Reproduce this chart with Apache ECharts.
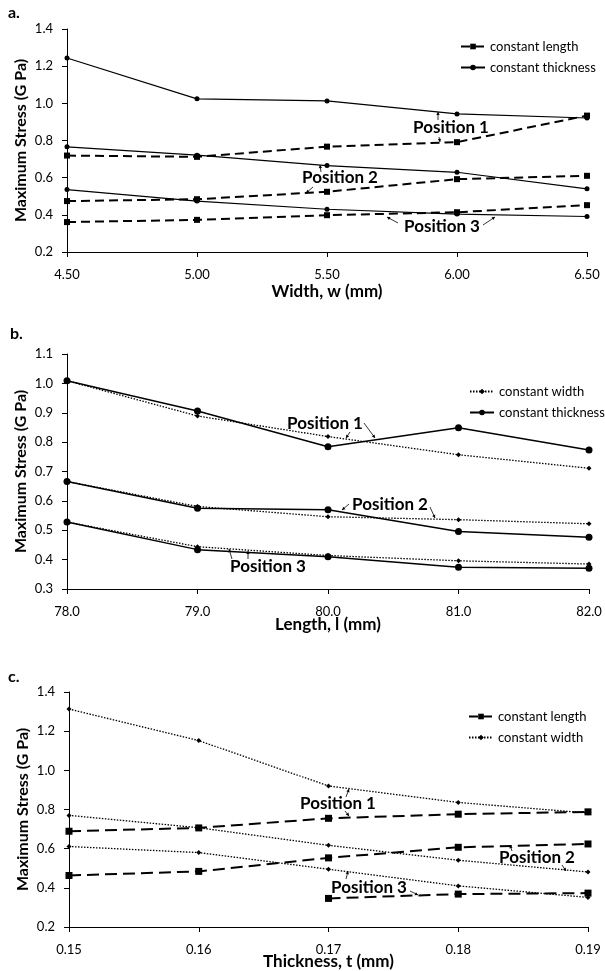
<!DOCTYPE html>
<html>
<head>
<meta charset="utf-8">
<script src="https://cdn.jsdelivr.net/npm/echarts@6/dist/echarts.min.js"></script>
<style>
   html, body { margin: 0; padding: 0; background: #fff; }
   #chartWrapper { width: 605px; height: 971px; }
</style>
</head>
<body>
<div id="chartWrapper"></div>
<script>
// panel a: stress vs width
var widthCats = ['4.50', '5.00', '5.50', '6.00', '6.50'];
var aThick1 = [1.244, 1.024, 1.013, 0.943, 0.921];
var aThick2 = [0.766, 0.721, 0.665, 0.629, 0.540];
var aThick3 = [0.536, 0.474, 0.430, 0.404, 0.391];
var aLen1 = [0.719, 0.712, 0.767, 0.791, 0.934];
var aLen2 = [0.474, 0.484, 0.524, 0.592, 0.610];
var aLen3 = [0.361, 0.373, 0.398, 0.414, 0.452];

// panel b: stress vs length
var lengthCats = ['78.0', '79.0', '80.0', '81.0', '82.0'];
var bThick1 = [1.009, 0.906, 0.784, 0.849, 0.773];
var bThick2 = [0.666, 0.575, 0.570, 0.496, 0.476];
var bThick3 = [0.528, 0.434, 0.410, 0.374, 0.371];
var bWidth1 = [1.009, 0.889, 0.819, 0.757, 0.711];
var bWidth2 = [0.666, 0.581, 0.546, 0.536, 0.522];
var bWidth3 = [0.528, 0.444, 0.414, 0.396, 0.385];

// panel c: stress vs thickness
var thickCats = ['0.15', '0.16', '0.17', '0.18', '0.19'];
var cWidth1 = [1.313, 1.152, 0.920, 0.836, 0.782];
var cWidth2 = [0.770, 0.707, 0.617, 0.541, 0.481];
var cWidth3 = [0.611, 0.580, 0.495, 0.410, 0.351];
var cLen1 = [0.689, 0.706, 0.755, 0.776, 0.788];
var cLen2 = [0.463, 0.484, 0.553, 0.607, 0.624];
var cLen3 = [null, null, 0.346, 0.368, 0.373];

var font = 'Lato';

var grids = [
   { left: 67, top: 29, width: 520, height: 223 },
   { left: 67, top: 354, width: 522, height: 235 },
   { left: 69, top: 692, width: 519, height: 235 }
];

var xName = ['Width, w (mm)', 'Length, l (mm)', 'Thickness, t (mm)'];
var xCats = [widthCats, lengthCats, thickCats];
var xNameGap = [31, 27, 26];
var yRange = [[0.2, 1.4, 0.2], [0.3, 1.1, 0.1], [0.2, 1.4, 0.2]];

var styles = {
   thick: { type: 'solid', width: 1.2, symbol: 'circle', size: 5 },
   thickB: { type: 'solid', width: 1.5, symbol: 'circle', size: 7 },
   len: { type: [9, 5], width: 2, symbol: 'rect', size: 6 },
   lenC: { type: [12, 6], width: 2, symbol: 'rect', size: 7 },
   width: { type: [1.5, 1.5], width: 1.3, symbol: 'diamond', size: 5 }
};

var makeSeries = function(name, data, idx, st) {
   return {
      name: name,
      type: 'line',
      xAxisIndex: idx,
      yAxisIndex: idx,
      data: data,
      symbol: st.symbol,
      symbolSize: st.size,
      connectNulls: false,
      lineStyle: { color: '#000', width: st.width, type: st.type },
      itemStyle: { color: '#000' },
      emphasis: { disabled: true },
      animation: false
   };
};

var series = [
   makeSeries('constant length', aLen1, 0, styles.len),
   makeSeries('constant length', aLen2, 0, styles.len),
   makeSeries('constant length', aLen3, 0, styles.len),
   makeSeries('constant thickness', aThick1, 0, styles.thick),
   makeSeries('constant thickness', aThick2, 0, styles.thick),
   makeSeries('constant thickness', aThick3, 0, styles.thick),
   makeSeries('constant width', bWidth1, 1, styles.width),
   makeSeries('constant width', bWidth2, 1, styles.width),
   makeSeries('constant width', bWidth3, 1, styles.width),
   makeSeries('constant thickness', bThick1, 1, styles.thickB),
   makeSeries('constant thickness', bThick2, 1, styles.thickB),
   makeSeries('constant thickness', bThick3, 1, styles.thickB),
   makeSeries('constant length', cLen1, 2, styles.lenC),
   makeSeries('constant length', cLen2, 2, styles.lenC),
   makeSeries('constant length', cLen3, 2, styles.lenC),
   makeSeries('constant width', cWidth1, 2, styles.width),
   makeSeries('constant width', cWidth2, 2, styles.width),
   makeSeries('constant width', cWidth3, 2, styles.width)
];

var xAxes = [], yAxes = [];
for(var i = 0; i < 3; i++) {
   xAxes.push({
      type: 'category',
      gridIndex: i,
      data: xCats[i],
      boundaryGap: false,
      name: xName[i],
      nameLocation: 'middle',
      nameGap: xNameGap[i],
      nameMoveOverlap: false,
      nameTextStyle: { fontFamily: font, fontWeight: 'bold', fontSize: 17, color: '#000' },
      axisLine: { lineStyle: { color: '#000', width: 1 } },
      axisTick: { alignWithLabel: true, length: 5, lineStyle: { color: '#000' } },
      axisLabel: { fontFamily: font, fontSize: 13, color: '#000', margin: 16 },
      splitLine: { show: false }
   });
   yAxes.push({
      type: 'value',
      gridIndex: i,
      min: yRange[i][0],
      max: yRange[i][1],
      interval: yRange[i][2],
      name: 'Maximum Stress (G Pa)',
      nameLocation: 'middle',
      nameGap: 38,
      nameMoveOverlap: false,
      nameTextStyle: { fontFamily: font, fontWeight: 'bold', fontSize: 16, color: '#000' },
      axisLine: { show: true, lineStyle: { color: '#000', width: 1 } },
      axisTick: { show: true, length: 5, lineStyle: { color: '#000' } },
      axisLabel: {
         fontFamily: font, fontSize: 13, color: '#000', margin: 14,
         formatter: function(v) { return v.toFixed(1); }
      },
      splitLine: { show: false }
   });
}

var legendBase = function(names, top, left) {
   return {
      data: names,
      orient: 'vertical',
      left: left,
      top: top,
      itemWidth: 24,
      itemHeight: 7,
      itemGap: 8,
      selectedMode: false,
      textStyle: { fontFamily: font, fontSize: 13, color: '#000' }
   };
};

var legends = [
   legendBase(['constant length', 'constant thickness'], 35, 455),
   legendBase(['constant width', 'constant thickness'], 380, 464),
   legendBase(['constant length', 'constant width'], 705, 463)
];

// annotation labels and small arrows, in pixels
var labels = [
   ['Position 1', 451, 128], ['Position 2', 340, 178], ['Position 3', 442, 227],
   ['Position 1', 325, 424], ['Position 2', 390, 505], ['Position 3', 268, 567],
   ['Position 1', 338, 804], ['Position 2', 537, 858], ['Position 3', 369, 888]
];
var arrows = [
   [438, 120, 438, 112], [439, 137, 440, 142],
   [321, 172, 320, 165], [313, 187, 306, 193],
   [398, 223, 387, 217], [483, 225, 495, 217],
   [364, 423, 375, 438], [350, 432, 346, 438],
   [349, 504, 342, 510], [430, 507, 435, 518],
   [232, 559, 229, 549], [248, 559, 248, 551],
   [346, 797, 349, 789], [345, 811, 349, 816],
   [512, 851, 510, 845], [562, 865, 566, 871],
   [346, 879, 348, 871], [410, 891, 418, 895]
];

var graphic = [
   { type: 'text', left: 8, top: 5, style: { text: 'a.', font: 'bold 16px ' + font, fill: '#000' } },
   { type: 'text', left: 10, top: 326, style: { text: 'b.', font: 'bold 16px ' + font, fill: '#000' } },
   { type: 'text', left: 8, top: 669, style: { text: 'c.', font: 'bold 16px ' + font, fill: '#000' } }
];

var each = function(arr, fn) { for(var k = 0; k < arr.length; k++) { fn(arr[k]); } };

each(labels, function(l) {
   graphic.push({
      type: 'text', x: l[1], y: l[2],
      style: { text: l[0], font: 'bold 17px ' + font, fill: '#000', align: 'center', verticalAlign: 'middle' }
   });
});

each(arrows, function(a) {
   var ang = Math.atan2(a[3] - a[1], a[2] - a[0]), h = 3.5;
   graphic.push({ type: 'line', shape: { x1: a[0], y1: a[1], x2: a[2], y2: a[3] }, style: { stroke: '#000', lineWidth: 0.8 } });
   graphic.push({
      type: 'polygon',
      shape: { points: [
         [a[2], a[3]],
         [a[2] - h * Math.cos(ang - 0.5), a[3] - h * Math.sin(ang - 0.5)],
         [a[2] - h * Math.cos(ang + 0.5), a[3] - h * Math.sin(ang + 0.5)]
      ] },
      style: { fill: '#000' }
   });
});

var iChart = echarts.init(document.getElementById('chartWrapper'));
iChart.setOption({
   backgroundColor: '#fff',
   animation: false,
   grid: grids,
   xAxis: xAxes,
   yAxis: yAxes,
   legend: legends,
   series: series,
   graphic: graphic
});
</script>
</body>
</html>
